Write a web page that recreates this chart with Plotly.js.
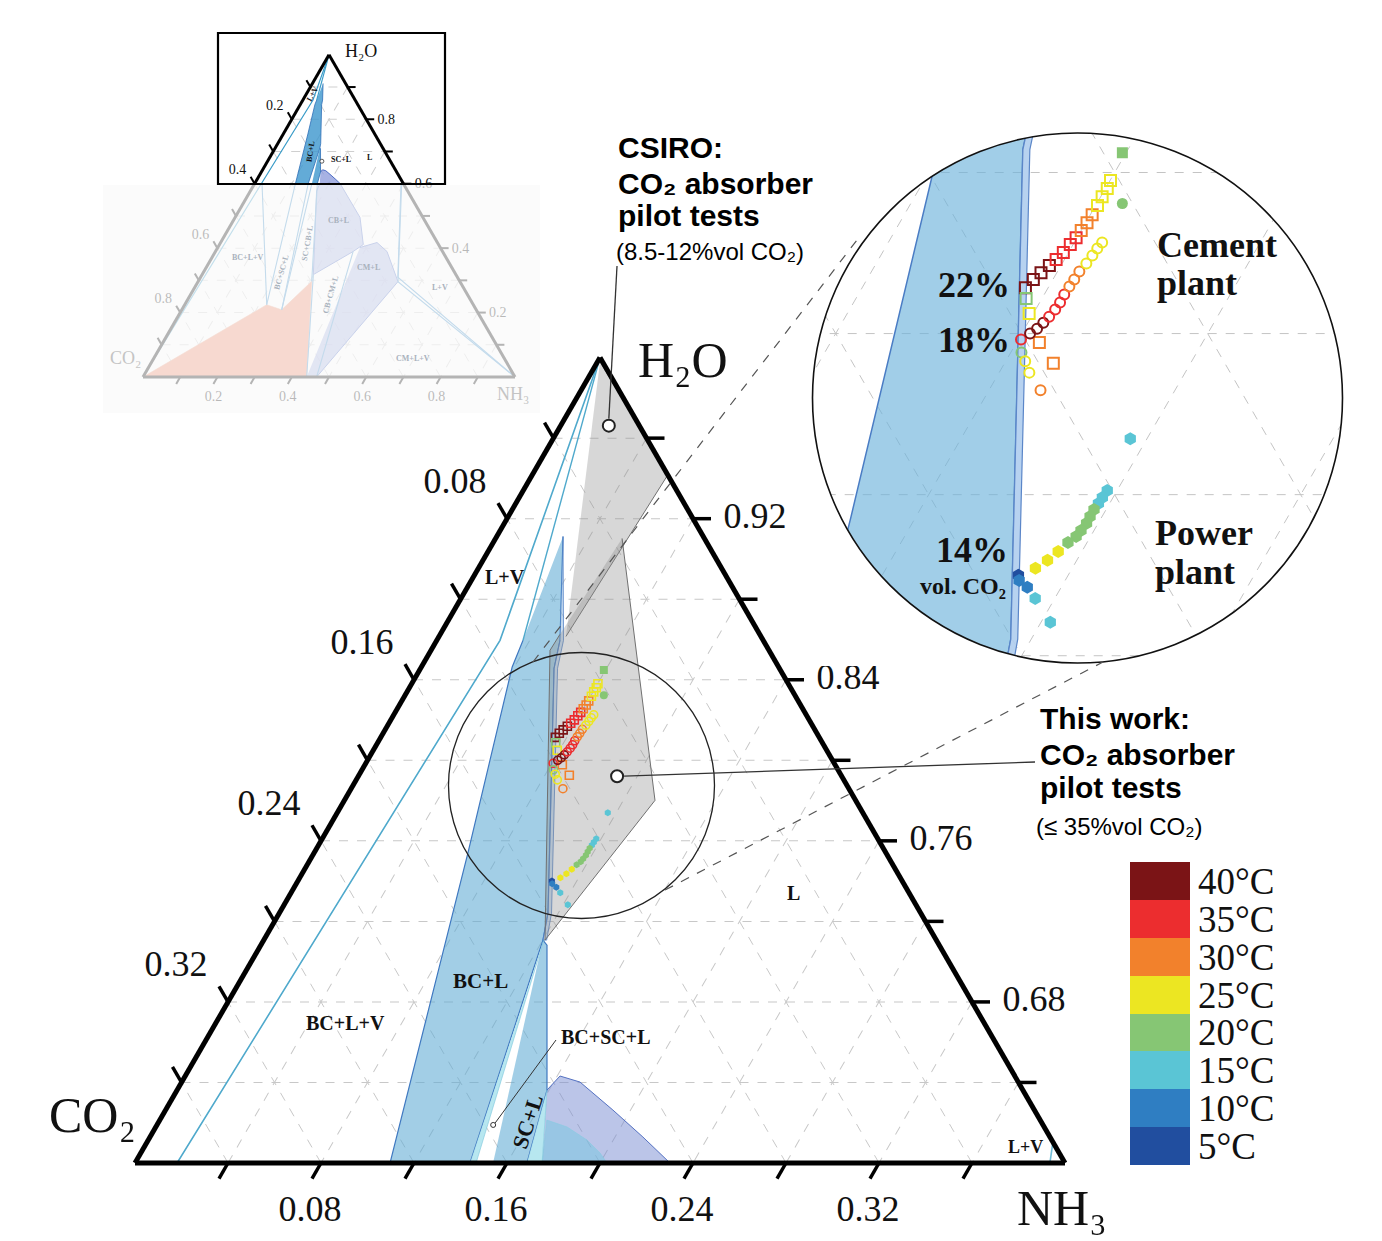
<!DOCTYPE html>
<html>
<head>
<meta charset="utf-8">
<script src="https://cdn.plot.ly/plotly-3.0.1.min.js"></script>
<style>
html,body{margin:0;padding:0;background:#ffffff;}
#chart{width:1382px;height:1241px;}
</style>
</head>
<body>
<div id="chart"></div>
<script>
// ======================= DATA =======================
// temperature classes (colour bar)
const tempValues = [5, 10, 15, 20, 25, 30, 35, 40];
const tempLabels = ['5°C','10°C','15°C','20°C','25°C','30°C','35°C','40°C'];
const tempColors = ['#214e9f','#2f7ec2','#5ac5d5','#86c674','#ece622','#f2812c','#ec2d2f','#7b1416'];

// ticks of the zoomed triangle (H2O >= 0.6)
const co2TickVals = [0.04,0.08,0.12,0.16,0.20,0.24,0.28,0.32,0.36];
const co2TickText = ['','0.08','','0.16','','0.24','','0.32',''];
const nh3TickVals = [0.04,0.08,0.12,0.16,0.20,0.24,0.28,0.32,0.36];
const nh3TickText = ['','0.08','','0.16','','0.24','','0.32',''];
const h2oTickVals = [0.96,0.92,0.88,0.84,0.80,0.76,0.72,0.68,0.64];
const h2oTickText = ['','0.92','','0.84','','0.76','','0.68',''];
// ticks of the full diagram
const fullTickVals = [0.1,0.2,0.3,0.4,0.5,0.6,0.7,0.8,0.9];
const fullTickText = ['','0.2','','0.4','','0.6','','0.8',''];

// ---- cement plant (open squares) : H2O, NH3 mole fractions, temperature
const cemSqH2O = [0.8114,0.8134,0.8151,0.8169,0.8184,0.8201,0.8221,0.8238,0.8256,0.8275,0.8295,0.8318,0.8340,0.8360,0.8380,0.8087,0.8050,0.7978,0.7926];
const cemSqNH3 = [0.0751,0.0758,0.0766,0.0775,0.0782,0.0789,0.0794,0.0798,0.0800,0.0803,0.0804,0.0804,0.0803,0.0804,0.0801,0.0766,0.0791,0.0849,0.0905];
const cemSqT   = [40,40,40,40,35,35,35,35,30,30,30,25,25,25,25,20,25,30,30];
// ---- cement plant (open circles)
const cemCiH2O = [0.7985,0.8000,0.8012,0.8027,0.8042,0.8060,0.8077,0.8097,0.8117,0.8134,0.8154,0.8174,0.8194,0.8211,0.8226,0.7953,0.7931,0.7903,0.7859];
const cemCiNH3 = [0.0806,0.0818,0.0827,0.0833,0.0838,0.0842,0.0844,0.0843,0.0844,0.0846,0.0847,0.0852,0.0855,0.0857,0.0860,0.0823,0.0842,0.0865,0.0911];
const cemCiT   = [35,40,40,40,35,35,35,35,30,30,30,25,25,25,25,20,25,25,30];
// ---- cement plant, filled square / filled circle
const cemFsqH2O = [0.8449], cemFsqNH3 = [0.0792], cemFsqT = [20];
const cemFciH2O = [0.8323], cemFciNH3 = [0.0855], cemFciT = [20];
// ---- power plant (filled hexagons)
const powH2O = [0.7739,0.7610,0.7593,0.7578,0.7563,0.7546,0.7529,0.7511,0.7496,0.7481,0.7459,0.7437,0.7417,0.7400,0.7387,0.7370,0.7342,0.7283];
const powNH3 = [0.1164,0.1179,0.1177,0.1176,0.1174,0.1174,0.1175,0.1172,0.1169,0.1159,0.1149,0.1137,0.1121,0.1093,0.1101,0.1127,0.1158,0.1220];
const powT   = [15,15,15,15,20,20,20,20,20,20,25,25,25,5,10,10,15,15];

// ---- phase regions (H2O, NH3)
const bcL_H2O = [0.9112,0.8596,0.8457,0.7241,0.7107,0.6000,0.6000,0.7543,0.8462,0.8596];
const bcL_NH3 = [0.0285,0.0530,0.0574,0.1156,0.1201,0.1441,0.1097,0.0661,0.0391,0.0371];
const strip_H2O = [0.9112,0.8596,0.8457,0.7241,0.7107,0.7107,0.7241,0.8457,0.8596];
const strip_NH3 = [0.0285,0.0545,0.0589,0.1171,0.1217,0.1201,0.1156,0.0574,0.0530];
const sliver1_H2O = [0.6000,0.6000,0.7107];
const sliver1_NH3 = [0.1441,0.1467,0.1205];
const scL_H2O = [0.6000,0.6000,0.6362,0.7082,0.7107];
const scL_NH3 = [0.1540,0.1686,0.1591,0.1231,0.1201];
const sliver2_H2O = [0.6000,0.6000,0.6362];
const sliver2_NH3 = [0.1686,0.1751,0.1591];
const cbL_H2O = [0.6362,0.6432,0.6402,0.6263,0.6129,0.6000,0.4953,0.4112,0.3894,0.3178,0.5773,0.6000];
const cbL_NH3 = [0.1591,0.1612,0.1713,0.1924,0.2120,0.2301,0.3357,0.3866,0.3700,0.2990,0.1780,0.1751];
const cbIn_H2O = [0.6000,0.6213,0.6179,0.6114,0.6050,0.6000];
const cbIn_NH3 = [0.1751,0.1665,0.1769,0.1887,0.1975,0.2030];
const cmL_H2O = [0.4019,0.4174,0.3894,0.2960,0.0000,0.0000];
const cmL_NH3 = [0.3823,0.4204,0.4613,0.5374,0.4667,0.4400];
const pink_H2O = [0.0000,0.2243,0.2087,0.2969,0.0000];
const pink_NH3 = [0.0000,0.2204,0.2685,0.3051,0.4400];
// CSIRO pilot regions
const gray1_H2O = [0.9980,0.9419,0.8615];
const gray1_NH3 = [0.0010,0.0583,0.0546];
const gray2_H2O = [0.9102,0.7801,0.7107,0.8546,0.8625];
const gray2_NH3 = [0.0544,0.1336,0.1210,0.0512,0.0515];
// boundary lines
const tealA_H2O = [1.0000,0.8596,0.6000,0.0000];
const tealA_NH3 = [0.0000,0.0272,0.0181,0.0000];
const tealB_H2O = [1.0000,0.8596];
const tealB_NH3 = [0.0000,0.0371];
const lvR_H2O = [0.6104,0.6000];
const lvR_NH3 = [0.3896,0.3935];
const bnd_H2O = [0.6,0.2243,null, 0.6,0.2243,null, 0.6,0.2087,null, 0.6,0.2087,null, 0.6,0.2969,null, 0.3178,0.0,null, 0.3894,0.0,null, 0.6034,0.2960,0.0,null, 0.6,0.31,0.0];
const bnd_NH3 = [0.0200,0.2204,null, 0.1097,0.2204,null, 0.1441,0.2685,null, 0.1540,0.2685,null, 0.1686,0.3051,null, 0.2990,0.4400,null, 0.3700,0.4667,null, 0.3938,0.5374,1.0,null, 0.3935,0.5300,1.0];
// annotated points
const csiroPt = {h2o:0.9662, nh3:0.0207};
const thisWorkPt = {h2o:0.7921, nh3:0.1113};
const bcsclPt = {h2o:0.6189, nh3:0.1446};
const scLFullPt = {h2o:0.6698, nh3:0.1460};

// ======================= HELPERS =======================
const W = 1382, H = 1241;
const px = x => x / W, py = y => 1 - y / H;
const SQ3 = Math.sqrt(3) / 2;
const SERIF = 'Liberation Serif, Times New Roman, serif';
const SANS = 'Liberation Sans, Arial, sans-serif';

// triangle geometries (pixels) used by the overlay axis decorations
const M = {x0:135, y0:1163, side:930, amin:0.6, span:0.4};
const F = {x0:143, y0:377, side:372, amin:0.0, span:1.0};
function triPx(T, h2o, nh3){ const ap=(h2o-T.amin)/T.span, cp=nh3/T.span; return [T.x0 + T.side*cp + T.side/2*ap, T.y0 - T.side*SQ3*ap]; }
const mainPx = (h,n) => triPx(M,h,n);

const csc = [];
tempColors.forEach((c,i)=>{ csc.push([i/8,c]); csc.push([(i+1)/8,c]); });

function co2(h,n){ return h.map((v,i)=> v===null ? null : Math.max(0, 1 - v - n[i])); }
function tern(sub, h, n, extra){
  return Object.assign({type:'scatterternary', subplot:sub, a:h, b:co2(h,n), c:n, hoverinfo:'skip', showlegend:false}, extra);
}
function cart(h, n, extra){
  return Object.assign({type:'scatter', xaxis:'x', yaxis:'y', x:h.map((v,i)=> v===null?null:n[i]+v/2), y:h.map(v=> v===null?null:v*SQ3), hoverinfo:'skip', showlegend:false}, extra);
}
const poly = (fill, line, lw) => ({mode:'lines', fill:'toself', fillcolor:fill, line:{color:line, width:lw}});
const mk = (sym, size, lw, colorVals, extra) => Object.assign({symbol:sym, size:size, color:colorVals, colorscale:csc, cmin:2.5, cmax:42.5, line:{width:lw}}, extra||{});

// ======================= TRACES =======================
const traces = [];
// ---- main ternary
traces.push(tern('ternary', cbL_H2O, cbL_NH3, poly('rgba(120,140,210,0.5)','#5572c2',1)));
traces.push(tern('ternary', cbIn_H2O, cbIn_NH3, poly('rgba(110,200,225,0.45)','#86cbe0',0.6)));
traces.push(tern('ternary', bcL_H2O, bcL_NH3, poly('rgba(95,170,212,0.58)','#3f78c0',1.2)));
traces.push(tern('ternary', strip_H2O, strip_NH3, poly('rgba(150,190,230,0.5)','#4f7fc4',0.8)));
traces.push(tern('ternary', scL_H2O, scL_NH3, poly('rgba(95,170,212,0.58)','#3f78c0',1.2)));
traces.push(tern('ternary', sliver1_H2O, sliver1_NH3, poly('rgba(175,228,238,0.9)','#7bc6dc',0.6)));
traces.push(tern('ternary', sliver2_H2O, sliver2_NH3, poly('rgba(175,228,238,0.9)','#7bc6dc',0.6)));
traces.push(tern('ternary', gray1_H2O, gray1_NH3, poly('rgba(140,140,140,0.35)','#707070',1)));
traces.push(tern('ternary', gray2_H2O, gray2_NH3, poly('rgba(140,140,140,0.35)','#707070',1)));
traces.push(tern('ternary', tealA_H2O, tealA_NH3, {mode:'lines', line:{color:'#4fa9cc', width:1.6}}));
traces.push(tern('ternary', tealB_H2O, tealB_NH3, {mode:'lines', line:{color:'#4fa9cc', width:1.4}}));
traces.push(tern('ternary', lvR_H2O, lvR_NH3, {mode:'lines', line:{color:'#6fbcd6', width:1.6}}));
traces.push(tern('ternary', cemSqH2O, cemSqNH3, {mode:'markers', marker:mk('square-open',8,1.6,cemSqT)}));
traces.push(tern('ternary', cemCiH2O, cemCiNH3, {mode:'markers', marker:mk('circle-open',8,1.6,cemCiT)}));
traces.push(tern('ternary', cemFsqH2O, cemFsqNH3, {mode:'markers', marker:mk('square',8,0,cemFsqT)}));
traces.push(tern('ternary', cemFciH2O, cemFciNH3, {mode:'markers', marker:mk('circle',8,0,cemFciT)}));
traces.push(tern('ternary', powH2O, powNH3, {mode:'markers', marker:mk('hexagon',7,0,powT,{showscale:true,
  colorbar:{x:px(1130), xanchor:'left', y:py(1165), yanchor:'bottom', len:303/H, lenmode:'fraction',
    thickness:60, thicknessmode:'pixels', xpad:0, ypad:0, outlinewidth:0, ticks:'',
    tickmode:'array', tickvals:tempValues, ticktext:tempLabels,
    tickfont:{family:SERIF, size:37, color:'#111'}}})}));
traces.push(tern('ternary', [csiroPt.h2o, thisWorkPt.h2o], [csiroPt.nh3, thisWorkPt.nh3],
  {mode:'markers', marker:{symbol:'circle', size:12, color:'#fff', line:{color:'#222', width:2}}}));
traces.push(tern('ternary', [bcsclPt.h2o], [bcsclPt.nh3],
  {mode:'markers', marker:{symbol:'circle', size:5, color:'#fff', line:{color:'#333', width:1}}}));

// ---- full-diagram inset ternary (top-left)
traces.push(tern('ternary2', pink_H2O, pink_NH3, poly('rgba(240,135,100,1)','#e89070',0.6)));
traces.push(tern('ternary2', cmL_H2O, cmL_NH3, poly('rgba(130,145,215,0.7)','#4c6cc4',1)));
traces.push(tern('ternary2', cbL_H2O, cbL_NH3, poly('rgba(130,145,215,0.7)','#4c6cc4',1)));
traces.push(tern('ternary2', bcL_H2O, bcL_NH3, poly('rgba(60,150,205,0.8)','#2f6fb8',0.8)));
traces.push(tern('ternary2', scL_H2O, scL_NH3, poly('rgba(60,150,205,0.8)','#2f6fb8',0.8)));
traces.push(tern('ternary2', tealA_H2O, tealA_NH3, {mode:'lines', line:{color:'#3a9cc8', width:1.2}}));
traces.push(tern('ternary2', tealB_H2O, tealB_NH3, {mode:'lines', line:{color:'#3a9cc8', width:1.2}}));
traces.push(tern('ternary2', bnd_H2O, bnd_NH3, {mode:'lines', connectgaps:false, line:{color:'#3a8cc8', width:1.1}}));
traces.push(tern('ternary2', [scLFullPt.h2o], [scLFullPt.nh3], {mode:'markers', marker:{symbol:'circle', size:4, color:'#fff', line:{color:'#333', width:0.8}}}));

// ---- magnified circle (cartesian view of the same compositions)
const gh = [], gn = [];
h2oTickVals.forEach(g=>{ gh.push(g,g,null); gn.push(0,1-g,null); });        // const H2O
co2TickVals.forEach(g=>{ gh.push(1-g,0,null); gn.push(0,1-g,null); });      // const CO2
nh3TickVals.forEach(g=>{ gh.push(1-g,0,null); gn.push(g,g,null); });        // const NH3
traces.push(cart(gh, gn, {mode:'lines', connectgaps:false, line:{color:'#c4c4c4', width:1, dash:'dash'}}));
traces.push(cart(bcL_H2O, bcL_NH3, poly('rgba(110,180,220,0.65)','#4a7cc4',1.5)));
traces.push(cart(strip_H2O, strip_NH3, poly('rgba(175,205,238,0.9)','#5b86c8',1.2)));
traces.push(cart(cemSqH2O, cemSqNH3, {mode:'markers', marker:mk('square-open',11,2,cemSqT)}));
traces.push(cart(cemCiH2O, cemCiNH3, {mode:'markers', marker:mk('circle-open',10,2,cemCiT)}));
traces.push(cart(cemFsqH2O, cemFsqNH3, {mode:'markers', marker:mk('square',11,0,cemFsqT)}));
traces.push(cart(cemFciH2O, cemFciNH3, {mode:'markers', marker:mk('circle',11,0,cemFciT)}));
traces.push(cart(powH2O, powNH3, {mode:'markers', marker:mk('hexagon',13,0,powT)}));

// ---- axis ticks & tick labels (pixel overlay axes x2/y2), in the reference's style
function buildTicks(T, len, sets){
  const lx=[], ly=[], tx=[], ty=[], tt=[];
  sets.forEach(s=>{
    s.vals.forEach((v,i)=>{
      const comp = s.comp(v);
      const b = triPx(T, comp[0], comp[1]);
      lx.push(b[0], b[0]+len*s.dir[0], null); ly.push(b[1], b[1]+len*s.dir[1], null);
      if (s.text[i]) { tx.push(b[0]+s.off[0]); ty.push(b[1]+s.off[1]); tt.push(s.text[i]); }
    });
  });
  return {lx, ly, tx, ty, tt};
}
const mainT = buildTicks(M, 18, [
  {vals:co2TickVals, text:co2TickText, comp:v=>[1-v,0], dir:[-0.5,-SQ3], off:[-52,-35]},
  {vals:h2oTickVals, text:h2oTickText, comp:v=>[v,1-v], dir:[1,0], off:[62,0]},
  {vals:nh3TickVals, text:nh3TickText, comp:v=>[0.6,v], dir:[-0.5,SQ3], off:[-11,49]}
]);
const fullT = buildTicks(F, 8, [
  {vals:fullTickVals, text:fullTickText, comp:v=>[1-v,0], dir:[-0.5,-SQ3], off:[-17,-13]},
  {vals:fullTickVals, text:fullTickText, comp:v=>[v,1-v], dir:[1,0], off:[20,1]},
  {vals:fullTickVals, text:fullTickText, comp:v=>[0,v], dir:[-0.5,SQ3], off:[-4,20]}
]);
const ov = {type:'scatter', xaxis:'x2', yaxis:'y2', hoverinfo:'skip', showlegend:false, cliponaxis:false};
traces.push(Object.assign({}, ov, {x:mainT.lx, y:mainT.ly, mode:'lines', connectgaps:false, line:{color:'#000', width:3.5}}));
traces.push(Object.assign({}, ov, {x:mainT.tx, y:mainT.ty, text:mainT.tt, mode:'text', textposition:'middle center', textfont:{family:SERIF, size:36, color:'#111'}}));
traces.push(Object.assign({}, ov, {x:fullT.lx, y:fullT.ly, mode:'lines', connectgaps:false, line:{color:'#000', width:2}}));
traces.push(Object.assign({}, ov, {x:fullT.tx, y:fullT.ty, text:fullT.tt, mode:'text', textposition:'middle center', textfont:{family:SERIF, size:14, color:'#111'}}));

// ======================= LAYOUT =======================
const zoomCenter = {h2o:0.7840, nh3:0.1000};
const zoomHalf = 265 / (M.side/0.4 * 2);      // 2x magnification
const zcx = zoomCenter.nh3 + zoomCenter.h2o/2, zcy = zoomCenter.h2o*SQ3;
const Z = {x:1077.5, y:398, r:265};            // magnified circle (px)
const MC = {x:581.5, y:785.5, r:133};          // selection circle (px)

function ternAxis(min, vals, lw){
  return {min:min, tickmode:'array', tickvals:vals, ticks:'', showticklabels:false,
    showline:true, linecolor:'#000', linewidth:lw, showgrid:true, gridcolor:'#c8c8c8', griddash:'dash', gridwidth:1,
    title:{text:''}, layer:'above traces'};
}

// mask: square minus circle
let mpath = `M${px(Z.x-Z.r-3)},${py(Z.y-Z.r-3)} L${px(Z.x+Z.r+3)},${py(Z.y-Z.r-3)} L${px(Z.x+Z.r+3)},${py(Z.y+Z.r+3)} L${px(Z.x-Z.r-3)},${py(Z.y+Z.r+3)} Z `;
for (let k=0;k<=120;k++){ const t=2*Math.PI*k/120; mpath += (k===0?'M':'L') + px(Z.x+Z.r*Math.cos(t)) + ',' + py(Z.y+Z.r*Math.sin(t)) + ' '; }
mpath += 'Z';

const cs = mainPx(csiroPt.h2o, csiroPt.nh3), tw = mainPx(thisWorkPt.h2o, thisWorkPt.nh3), bp = mainPx(bcsclPt.h2o, bcsclPt.nh3);
const pline = (x0,y0,x1,y1,col,w,dash) => ({type:'line', xref:'paper', yref:'paper', x0:px(x0), y0:py(y0), x1:px(x1), y1:py(y1), line:{color:col, width:w, dash:dash||'solid'}});

const shapes = [
  {type:'rect', xref:'paper', yref:'paper', x0:px(103), y0:py(413), x1:px(540), y1:py(185), fillcolor:'rgba(250,250,250,0.72)', line:{width:0}, layer:'above'},
  {type:'rect', xref:'paper', yref:'paper', x0:px(218), y0:py(184), x1:px(445), y1:py(33), line:{color:'#000', width:2.2}},
  {type:'path', xref:'paper', yref:'paper', path:mpath, fillrule:'evenodd', fillcolor:'#ffffff', line:{width:0}},
  {type:'circle', xref:'paper', yref:'paper', x0:px(Z.x-Z.r), y0:py(Z.y+Z.r), x1:px(Z.x+Z.r), y1:py(Z.y-Z.r), line:{color:'#111', width:1.6}},
  {type:'circle', xref:'paper', yref:'paper', x0:px(MC.x-MC.r), y0:py(MC.y+MC.r), x1:px(MC.x+MC.r), y1:py(MC.y-MC.r), line:{color:'#222', width:1.3}},
  pline(cs[0], cs[1]-7, 617, 266, '#333', 1.3),
  pline(tw[0]+7, tw[1], 1035, 762, '#333', 1.3),
  pline(bp[0]+2, bp[1]-2, 556, 1040, '#333', 1),
  pline(533, 662, 857, 240, '#555', 1.2, 'dash'),
  pline(665, 890, 1103, 662, '#555', 1.2, 'dash')
];

const ann = [];
const A = (x,y,text,size,opts) => ann.push(Object.assign({xref:'paper', yref:'paper', x:px(x), y:py(y), text:text, showarrow:false,
  font:{family:SERIF, size:size, color:'#111'}, xanchor:'center', yanchor:'middle'}, opts||{}));
// vertex titles
A(683,360,'H₂O',50);
A(92,1115,'CO₂',50);
A(1062,1208,'NH₃',50);
// phase labels main
A(505,577,'<b>L+V</b>',20);
A(480,981,'<b>BC+L</b>',21);
A(345,1023,'<b>BC+L+V</b>',20);
A(605,1037,'<b>BC+SC+L</b>',20);
A(527,1122,'<b>SC+L</b>',22,{textangle:-72});
A(793,893,'<b>L</b>',20);
A(1025,1147,'<b>L+V</b>',18);
// CSIRO text
const sb = {family:SANS, size:30, color:'#000'};
A(616,147,'<b>CSIRO:</b>',30,{xanchor:'left', font:sb});
A(616,183,'<b>CO₂ absorber</b>',30,{xanchor:'left', font:sb});
A(616,215,'<b>pilot tests</b>',30,{xanchor:'left', font:sb});
A(614,251,'(8.5-12%vol CO₂)',24,{xanchor:'left', font:{family:SANS, size:24, color:'#000'}});
// This work text
A(1038,718,'<b>This work:</b>',30,{xanchor:'left', font:sb});
A(1038,754,'<b>CO₂ absorber</b>',30,{xanchor:'left', font:sb});
A(1038,787,'<b>pilot tests</b>',30,{xanchor:'left', font:sb});
A(1034,826,'(≤ 35%vol CO₂)',24,{xanchor:'left', font:{family:SANS, size:24, color:'#000'}});
// magnified view labels
A(1155,245,'<b>Cement</b>',36,{xanchor:'left'});
A(1155,283,'<b>plant</b>',36,{xanchor:'left'});
A(1153,533,'<b>Power</b>',36,{xanchor:'left'});
A(1153,572,'<b>plant</b>',36,{xanchor:'left'});
A(1012,285,'<b>22%</b>',36,{xanchor:'right'});
A(1012,340,'<b>18%</b>',36,{xanchor:'right'});
A(1010,550,'<b>14%</b>',36,{xanchor:'right'});
A(1008,586,'<b>vol. CO₂</b>',24,{xanchor:'right'});
// full-diagram inset labels
A(361,51,'H₂O',18);
A(125,358,'CO₂',18,{font:{family:SERIF, size:18, color:'#c4c4c4'}});
A(513,394,'NH₃',18,{font:{family:SERIF, size:18, color:'#c4c4c4'}});
A(313,94,'<b>L+V</b>',8,{textangle:-62});
A(310,152,'<b>BC+L</b>',8,{textangle:-82});
A(341,160,'<b>SC+L</b>',8);
A(369,157,'<b>L</b>',8);
const fg = {family:SERIF, size:8, color:'#a9b2bd'};
A(338,220,'<b>CB+L</b>',8,{font:fg});
A(248,258,'<b>BC+L+V</b>',8,{font:fg});
A(281,272,'<b>BC+SC+L</b>',8,{font:fg, textangle:-74});
A(307,243,'<b>SC+CB+L</b>',8,{font:fg, textangle:-80});
A(330,295,'<b>CB+CM+L</b>',8,{font:fg, textangle:-74});
A(368,268,'<b>CM+L</b>',8,{font:fg});
A(440,287,'<b>L+V</b>',8,{font:fg});
A(413,358,'<b>CM+L+V</b>',8,{font:fg});

const layout = {
  width:W, height:H, margin:{l:0,r:0,t:0,b:0},
  paper_bgcolor:'#ffffff', plot_bgcolor:'rgba(0,0,0,0)', showlegend:false,
  ternary:{
    domain:{x:[px(M.x0), px(M.x0+M.side)], y:[py(M.y0), py(M.y0-M.side*SQ3)]},
    sum:1, bgcolor:'rgba(255,255,255,0)',
    aaxis:ternAxis(0.6, h2oTickVals, 5),
    baxis:ternAxis(0, co2TickVals, 5),
    caxis:ternAxis(0, nh3TickVals, 5)
  },
  ternary2:{
    domain:{x:[px(F.x0), px(F.x0+F.side)], y:[py(F.y0), py(F.y0-F.side*SQ3)]},
    sum:1, bgcolor:'rgba(255,255,255,0)',
    aaxis:Object.assign(ternAxis(0, fullTickVals, 3), {gridcolor:'#cfcfcf'}),
    baxis:Object.assign(ternAxis(0, fullTickVals, 3), {gridcolor:'#cfcfcf'}),
    caxis:Object.assign(ternAxis(0, fullTickVals, 3), {gridcolor:'#cfcfcf'})
  },
  xaxis:{domain:[px(Z.x-Z.r), px(Z.x+Z.r)], range:[zcx-zoomHalf, zcx+zoomHalf], visible:false, fixedrange:true},
  yaxis:{domain:[py(Z.y+Z.r), py(Z.y-Z.r)], range:[zcy-zoomHalf, zcy+zoomHalf], visible:false, fixedrange:true},
  xaxis2:{domain:[0,1], range:[0,W], visible:false, fixedrange:true, anchor:'y2'},
  yaxis2:{domain:[0,1], range:[H,0], visible:false, fixedrange:true, anchor:'x2'},
  shapes:shapes,
  annotations:ann
};

Plotly.newPlot('chart', traces, layout, {displayModeBar:false, staticPlot:true});
</script>
</body>
</html>
